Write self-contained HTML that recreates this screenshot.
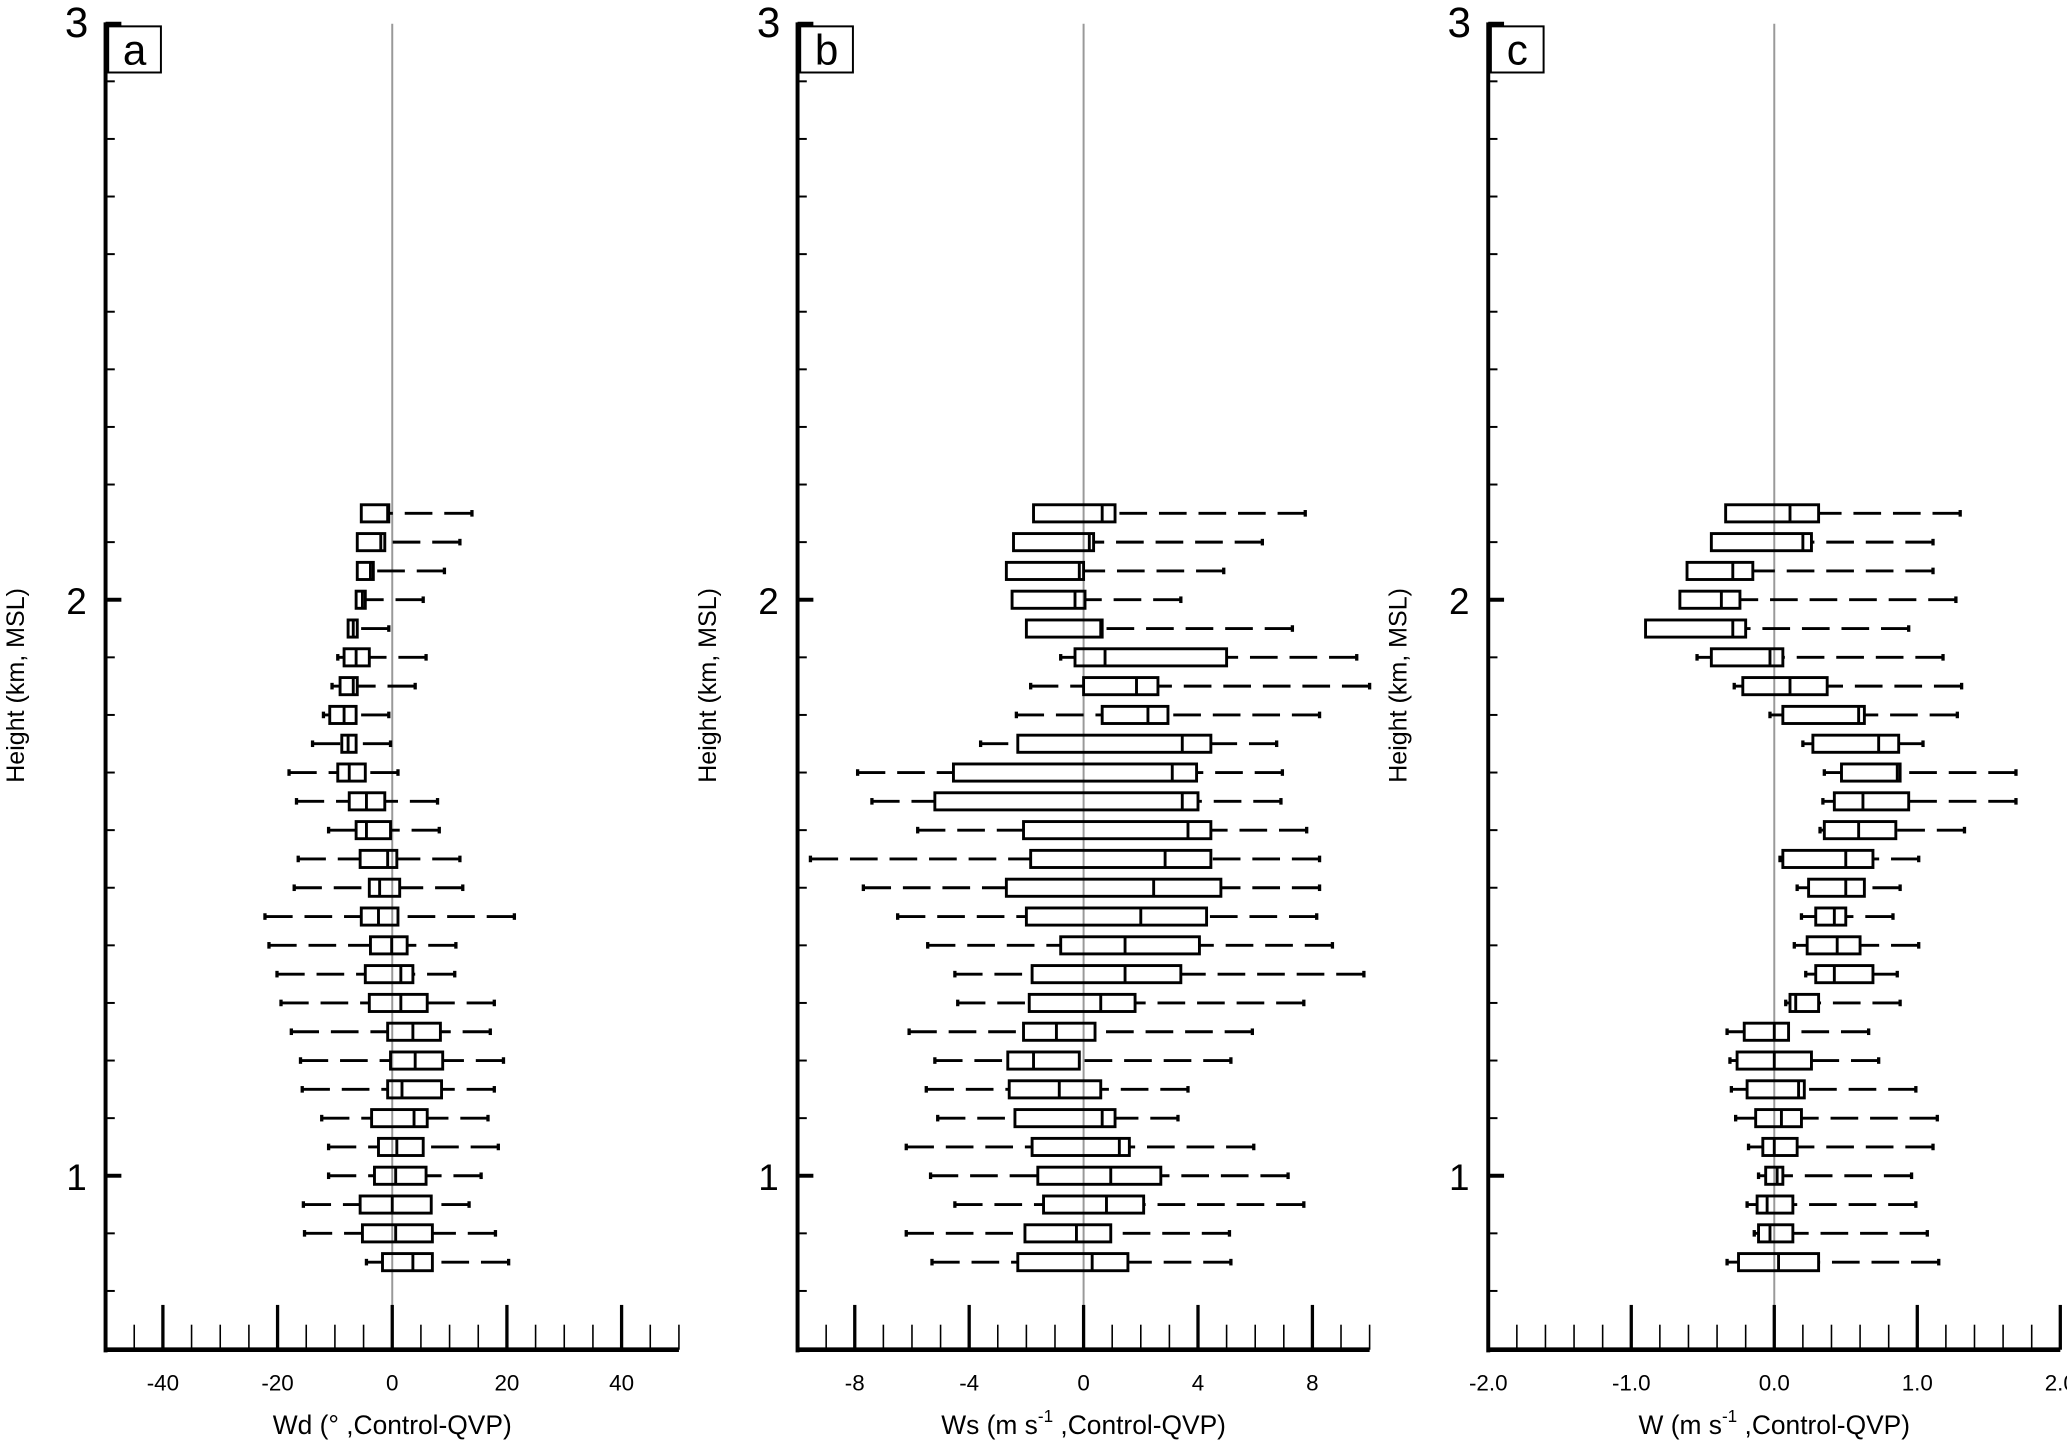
<!DOCTYPE html>
<html><head><meta charset="utf-8"><style>
html,body{margin:0;padding:0;background:#fff;}
svg{display:block;}
text{font-family:"Liberation Sans",sans-serif;fill:#000;}
</style></head><body>
<svg id="chart" width="2067" height="1442" viewBox="0 0 1568 1094"></svg>
<script>
const heights=[2.15,2.10,2.05,2.00,1.95,1.90,1.85,1.80,1.75,1.70,1.65,1.60,1.55,1.50,1.45,1.40,1.35,1.30,1.25,1.20,1.15,1.10,1.05,1.00,0.95,0.90,0.85];
// [low whisker, q1, median, q3, high whisker]
const wdStats=[[-5.4,-5.4,-0.8,-0.6,13.9],[-6.1,-6.1,-2,-1.3,11.8],[-6.1,-6.1,-3.8,-3.3,9.1],[-6.3,-6.3,-5.2,-4.7,5.4],[-7.7,-7.7,-6.8,-6.1,-0.6],[-9.5,-8.4,-6.3,-4,5.9],[-10.5,-9.1,-6.8,-6.1,4.0],[-12,-10.9,-8.4,-6.3,-0.6],[-13.9,-8.8,-7.7,-6.3,-0.3],[-18,-9.5,-7.5,-4.7,1.0],[-16.7,-7.5,-4.5,-1.3,7.9],[-11.1,-6.3,-4.5,-0.3,8.2],[-16.4,-5.6,-0.8,0.8,11.8],[-17.1,-4,-2.2,1.3,12.3],[-22.2,-5.4,-2.4,1,21.3],[-21.5,-3.8,-0.1,2.6,11.1],[-20.1,-4.7,1.5,3.6,10.9],[-19.4,-4,1.5,6.1,17.8],[-17.6,-0.8,3.6,8.4,17.1],[-16,-0.3,4,8.8,19.4],[-15.7,-0.8,1.7,8.6,17.8],[-12.3,-3.6,3.8,6.1,16.7],[-11.1,-2.4,0.8,5.4,18.5],[-11.1,-3.1,0.6,5.9,15.5],[-15.5,-5.6,0,6.8,13.4],[-15.3,-5.2,0.6,7,18],[-4.5,-1.7,3.6,7,20.3]];
const wsStats=[[-1.75,-1.75,0.65,1.1,7.75],[-2.45,-2.45,0.2,0.35,6.25],[-2.7,-2.7,-0.15,0,4.9],[-2.5,-2.5,-0.3,0.05,3.4],[-2,-2,0.6,0.65,7.3],[-0.8,-0.3,0.75,5,9.55],[-1.85,0,1.85,2.6,10],[-2.35,0.65,2.25,2.95,8.25],[-3.6,-2.3,3.45,4.45,6.75],[-7.9,-4.55,3.1,3.95,6.95],[-7.4,-5.2,3.45,4,6.9],[-5.8,-2.1,3.65,4.45,7.8],[-9.55,-1.85,2.85,4.45,8.25],[-7.7,-2.7,2.45,4.8,8.25],[-6.5,-2,2,4.3,8.15],[-5.45,-0.8,1.45,4.05,8.7],[-4.5,-1.8,1.45,3.4,9.8],[-4.4,-1.9,0.6,1.8,7.7],[-6.1,-2.1,-0.95,0.4,5.9],[-5.2,-2.65,-1.75,-0.15,5.15],[-5.5,-2.6,-0.85,0.6,3.65],[-5.1,-2.4,0.65,1.1,3.3],[-6.2,-1.8,1.25,1.6,5.95],[-5.35,-1.6,0.95,2.7,7.15],[-4.5,-1.4,0.8,2.1,7.7],[-6.2,-2.05,-0.25,0.95,5.1],[-5.3,-2.3,0.3,1.55,5.15]];
const wStats=[[-0.34,-0.34,0.11,0.31,1.3],[-0.44,-0.44,0.2,0.26,1.11],[-0.61,-0.61,-0.29,-0.15,1.11],[-0.66,-0.66,-0.37,-0.24,1.27],[-0.9,-0.9,-0.29,-0.2,0.94],[-0.54,-0.44,-0.03,0.06,1.18],[-0.28,-0.22,0.11,0.37,1.31],[-0.03,0.06,0.59,0.63,1.28],[0.2,0.27,0.73,0.87,1.04],[0.35,0.47,0.86,0.88,1.69],[0.34,0.42,0.62,0.94,1.69],[0.32,0.35,0.59,0.85,1.33],[0.04,0.06,0.5,0.69,1.01],[0.16,0.24,0.5,0.63,0.88],[0.19,0.29,0.42,0.5,0.83],[0.14,0.23,0.44,0.6,1.01],[0.22,0.29,0.42,0.69,0.86],[0.08,0.11,0.15,0.31,0.88],[-0.33,-0.21,0,0.1,0.66],[-0.31,-0.26,0,0.26,0.73],[-0.3,-0.19,0.17,0.21,0.99],[-0.27,-0.13,0.05,0.19,1.14],[-0.18,-0.08,0,0.16,1.11],[-0.11,-0.06,0.02,0.06,0.96],[-0.19,-0.12,-0.05,0.13,0.99],[-0.14,-0.11,-0.03,0.13,1.07],[-0.33,-0.25,0.03,0.31,1.15]];
const wdTicks=["-40","-20","0","20","40"];
const wsTicks=["-8","-4","0","4","8"];
const wTicks=["-2.0","-1.0","0.0","1.0","2.0"];
const yTickLabels=["1","2","3"];

const NS="http://www.w3.org/2000/svg";
const svg=document.getElementById('chart');
function mk(tag,attrs,parent){const e=document.createElementNS(NS,tag);for(const k in attrs)e.setAttribute(k,attrs[k]);(parent||svg).appendChild(e);return e;}
const yTop=18,yBot=1024;
function yScale(h){return 892-(h-1)*437;}

const panels=[
 {name:'wd',x0:80,x1:515,min:-50,max:50,major:[-40,-20,0,20,40],minorStep:5,ticks:wdTicks,stats:wdStats,label:'a',title:'Wd (\u00B0 ,Control-QVP)',sup:null},
 {name:'ws',x0:605,x1:1039,min:-10,max:10,major:[-8,-4,0,4,8],minorStep:1,ticks:wsTicks,stats:wsStats,label:'b',title:'Ws (m s',sup:'-1'},
 {name:'w',x0:1129,x1:1563,min:-2,max:2,major:[-2,-1,0,1,2],minorStep:0.2,ticks:wTicks,stats:wStats,label:'c',title:'W (m s',sup:'-1'}
];

panels.forEach(p=>{
 const g=mk('g',{});
 
 
 const xs=v=>p.x0+(v-p.min)/(p.max-p.min)*(p.x1-p.x0);
 // zero line
 const z=mk('line',{x1:xs(0),x2:xs(0),y1:yTop,y2:yBot,stroke:'#999','stroke-width':1.5},g);
 
 
 // boxes
 p.stats.forEach((s,i)=>{
  const y=yScale(heights[i]);
  const bg=mk('g',{},g);
  
  
  const hh=6.5;
  if(s[0]<s[1]){
   mk('line',{x1:xs(s[0]),x2:xs(s[1]),y1:y,y2:y,stroke:'#000','stroke-width':2.2,'stroke-dasharray':'21 9'},bg);
   mk('line',{x1:xs(s[0]),x2:xs(s[0]),y1:y-2.5,y2:y+2.5,stroke:'#000','stroke-width':2.5},bg);
  }
  if(s[4]>s[3]){
   mk('line',{x1:xs(s[4]),x2:xs(s[3]),y1:y,y2:y,stroke:'#000','stroke-width':2.2,'stroke-dasharray':'21 9'},bg);
   mk('line',{x1:xs(s[4]),x2:xs(s[4]),y1:y-2.5,y2:y+2.5,stroke:'#000','stroke-width':2.5},bg);
  }
  mk('rect',{x:xs(s[1]),y:y-hh,width:Math.max(xs(s[3])-xs(s[1]),1),height:2*hh,fill:'none',stroke:'#000','stroke-width':2.2},bg);
  mk('line',{x1:xs(s[2]),x2:xs(s[2]),y1:y-hh,y2:y+hh,stroke:'#000','stroke-width':2.2},bg);
 });
 // y axis
 const ya=mk('g',{},g);
 
 
 mk('line',{x1:p.x0,x2:p.x0,y1:yTop-1,y2:yBot+2,stroke:'#000','stroke-width':3},ya);
 for(let k=7;k<=30;k++){
  const h=k/10,y=yScale(h),maj=(k%10===0);
  mk('line',{x1:p.x0,x2:p.x0+(maj?12:7),y1:y,y2:y,stroke:'#000','stroke-width':maj?3:1.5},ya);
 }
 yTickLabels.forEach(t=>{
  const v=parseFloat(t);
  const tx=mk('text',{x:p.x0-22,y:yScale(v)+(v===3?10:11),'font-size':v===3?32:28,'text-anchor':'middle'},ya);
  tx.textContent=t;
 });
 const yt=mk('text',{x:0,y:0,'font-size':19,'text-anchor':'middle',transform:`translate(${p.x0-62},520) rotate(-90)`},ya);
 yt.textContent='Height (km, MSL)';
 // x axis
 const xa=mk('g',{},g);
 
 
 mk('line',{x1:p.x0-1,x2:p.x1,y1:yBot,y2:yBot,stroke:'#000','stroke-width':3.5},xa);
 const n=Math.round((p.max-p.min)/p.minorStep);
 for(let k=1;k<=n;k++){
  const v=p.min+k*p.minorStep;
  const maj=p.major.some(m=>Math.abs(m-v)<1e-6);
  mk('line',{x1:xs(v),x2:xs(v),y1:yBot,y2:yBot-(maj?34:19),stroke:'#000','stroke-width':maj?2.5:1.2},xa);
 }
 p.major.forEach((v,i)=>{
  const tx=mk('text',{x:xs(v),y:1055,'font-size':17,'text-anchor':'middle'},xa);
  tx.textContent=p.ticks[i];
 });
 const xt=mk('text',{x:(p.x0+p.x1)/2,y:1088,'font-size':20,'text-anchor':'middle'},xa);
 
 
 if(p.sup){
  xt.appendChild(document.createTextNode(p.title));
  const ts=mk('tspan',{'font-size':13,dy:-9},xt);ts.textContent=p.sup;
  const ts2=mk('tspan',{dy:9},xt);ts2.textContent=' ,Control-QVP)';
 } else xt.textContent=p.title;
 // panel label
 const lg=mk('g',{},g);
 
 
 mk('rect',{x:p.x0+2,y:yTop+2,width:40,height:35,fill:'#fff',stroke:'#000','stroke-width':1.5},lg);
 const lt=mk('text',{x:p.x0+22,y:yTop+31,'font-size':32,'text-anchor':'middle'},lg);
 lt.textContent=p.label;
});
</script>
</body></html>
